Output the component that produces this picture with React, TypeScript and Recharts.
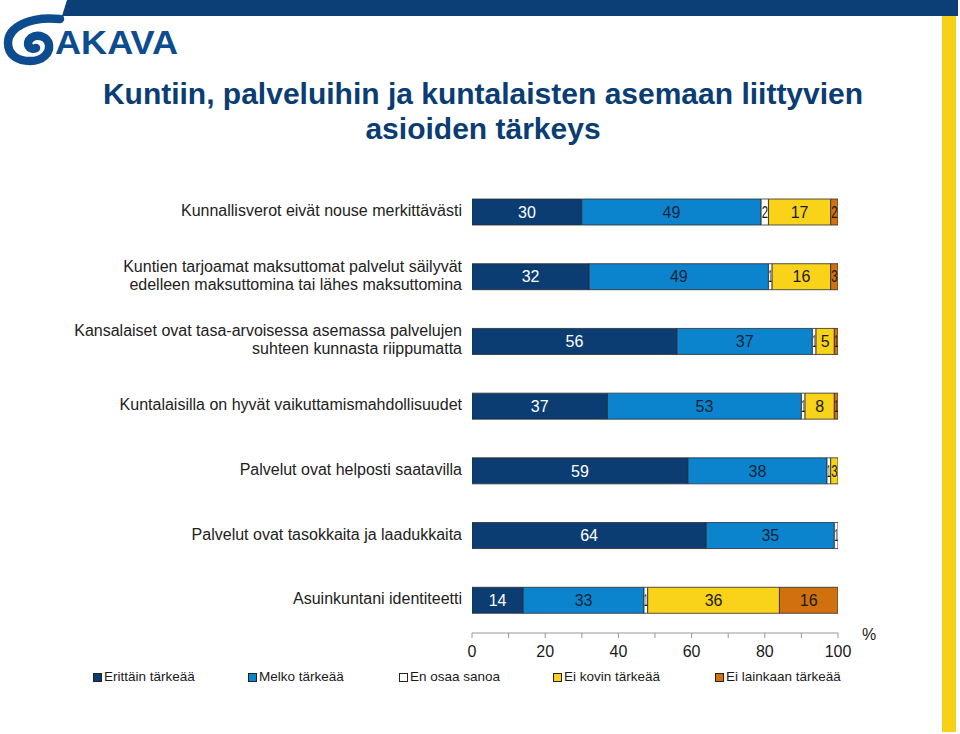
import { Bar, BarChart, LabelList, XAxis, YAxis } from "recharts";

// statements, top to bottom; "\n" marks the line breaks of the y-axis labels
const statements = [
  "Kunnallisverot eivät nouse merkittävästi",
  "Kuntien tarjoamat maksuttomat palvelut säilyvät\nedelleen maksuttomina tai lähes maksuttomina",
  "Kansalaiset ovat tasa-arvoisessa asemassa palvelujen\nsuhteen kunnasta riippumatta",
  "Kuntalaisilla on hyvät vaikuttamismahdollisuudet",
  "Palvelut ovat helposti saatavilla",
  "Palvelut ovat tasokkaita ja laadukkaita",
  "Asuinkuntani identiteetti",
];

const veryImportant = [30, 32, 56, 37, 59, 64, 14];
const fairlyImportant = [49, 49, 37, 53, 38, 35, 33];
const cannotSay = [2, 1, 1, 1, 1, 1, 1];
const notVery = [17, 16, 5, 8, 3, 0, 36];
const notAtAll = [2, 3, 1, 1, 0, 0, 16];

const xTicks = [0, 10, 20, 30, 40, 50, 60, 70, 80, 90, 100];

const SERIES = [
  { key: "a", name: "Erittäin tärkeää", fill: "#0B3D72", label: "#ffffff" },
  { key: "b", name: "Melko tärkeää", fill: "#0C84CD", label: "#14243a" },
  { key: "c", name: "En osaa sanoa", fill: "#ffffff", label: "#1a1a1a" },
  { key: "d", name: "Ei kovin tärkeää", fill: "#F9D21A", label: "#1a1a1a" },
  { key: "e", name: "Ei lainkaan tärkeää", fill: "#D0700E", label: "#1a1a1a" },
];

const data = statements.map((s, i) => ({
  name: s,
  a: veryImportant[i],
  b: fairlyImportant[i],
  c: cannotSay[i],
  d: notVery[i],
  e: notAtAll[i],
}));

const FONT = "'Liberation Sans', Arial, Helvetica, sans-serif";
const NAVY = "#0B3F75";

function StatementTick({ x, y, payload }: any) {
  const lines = String(payload.value).split("\n");
  const lh = 18;
  const start = y - ((lines.length - 1) * lh) / 2 - 2;
  return (
    <text x={x} y={start} textAnchor="end" fontSize={16} fill="#222" fontFamily={FONT}>
      {lines.map((l, i) => (
        <tspan key={i} x={x} y={start + i * lh} dy="0.35em">
          {l}
        </tspan>
      ))}
    </text>
  );
}

// value label that gets squeezed into narrow segments, like the original
function SegmentLabel({ x, y, width, height, value, color }: any) {
  const v = Number(value);
  if (!v) return null;
  const text = String(v);
  const natural = text.length * 9;
  const squeeze = natural > width - 1;
  return (
    <text
      x={x + width / 2}
      y={y + height / 2}
      dy="0.36em"
      textAnchor="middle"
      fontSize={16}
      fill={color}
      fontFamily={FONT}
      textLength={squeeze ? Math.max(width - 1, 3.5) : undefined}
      lengthAdjust={squeeze ? "spacingAndGlyphs" : undefined}
    >
      {text}
    </text>
  );
}

function Header() {
  return (
    <svg width={960} height={734} style={{ position: "absolute", left: 0, top: 0 }}>
      <polygon points="67,0 958,0 958,16 62,16" fill={NAVY} />
      <line x1={63} y1={16} x2={58} y2={22} stroke={NAVY} strokeWidth={1.5} />
      <rect x={942} y={16} width={14} height={716} fill="#F7D117" />
      {/* spiral mark of the logo */}
      <path
        d="M 60 19 C 30 16, 8 27, 8 43 C 8 56, 19 61, 30 61 C 43 61, 50 53, 49 45 C 48 37, 38 33, 31 38 C 25 43, 29 51, 36 48"
        fill="none"
        stroke="#0D4C8E"
        strokeWidth={8.5}
        strokeLinecap="round"
      />
      <text
        x={55}
        y={54}
        fontSize={34}
        fontWeight="bold"
        fill="#0D4C8E"
        fontFamily={FONT}
        textLength={123}
        lengthAdjust="spacingAndGlyphs"
      >
        AKAVA
      </text>
    </svg>
  );
}

export default function App() {
  return (
    <div style={{ position: "absolute", left: 0, top: 0, width: 960, height: 734, background: "#fff", fontFamily: FONT }}>
      <Header />
      <div
        style={{
          position: "absolute",
          left: 0,
          top: 76,
          width: 966,
          textAlign: "center",
          color: "#0A3D73",
          fontWeight: "bold",
          fontSize: 30,
          lineHeight: "35px",
        }}
      >
        Kuntiin, palveluihin ja kuntalaisten asemaan liittyvien
        <br />
        asioiden tärkeys
      </div>
      <div style={{ position: "absolute", left: 0, top: 0 }}>
        <BarChart
          width={960}
          height={734}
          data={data}
          layout="vertical"
          margin={{ top: 180, right: 122, bottom: 71, left: 0 }}
          barSize={26}
        >
          <XAxis
            type="number"
            domain={[0, 100]}
            ticks={xTicks}
            interval={0}
            tickFormatter={(v: number) => (v % 20 === 0 ? String(v) : "")}
            tick={{ fontSize: 16, fill: "#1a1a1a", fontFamily: FONT }}
            tickSize={5}
            tickMargin={8}
            axisLine={{ stroke: "#999" }}
            tickLine={{ stroke: "#999" }}
            height={30}
            allowDataOverflow
          />
          <YAxis
            type="category"
            dataKey="name"
            width={472}
            tick={<StatementTick />}
            tickLine={false}
            axisLine={false}
            tickSize={0}
            tickMargin={10}
            interval={0}
          />
          {SERIES.map((s) => (
            <Bar
              key={s.key}
              dataKey={s.key}
              name={s.name}
              stackId="x"
              fill={s.fill}
              stroke="#2b2b2b"
              strokeWidth={0.8}
              isAnimationActive={false}
            >
              <LabelList dataKey={s.key} content={<SegmentLabel color={s.label} />} />
            </Bar>
          ))}
        </BarChart>
      </div>
      <div style={{ position: "absolute", left: 862, top: 626, fontSize: 16, color: "#1a1a1a" }}>%</div>
      <div style={{ position: "absolute", left: 0, top: 669, width: 960, height: 18, fontSize: 13.5, color: "#1a1a1a" }}>
        {SERIES.map((s, i) => (
          <div
            key={s.key}
            style={{
              position: "absolute",
              left: [93, 248, 399, 553, 715][i],
              top: 0,
              display: "flex",
              alignItems: "center",
              whiteSpace: "nowrap",
              lineHeight: "16px",
            }}
          >
            <span
              style={{
                display: "inline-block",
                width: 7,
                height: 7,
                background: s.fill,
                border: "1px solid #222",
                marginRight: 2,
              }}
            />
            {s.name}
          </div>
        ))}
      </div>
    </div>
  );
}
